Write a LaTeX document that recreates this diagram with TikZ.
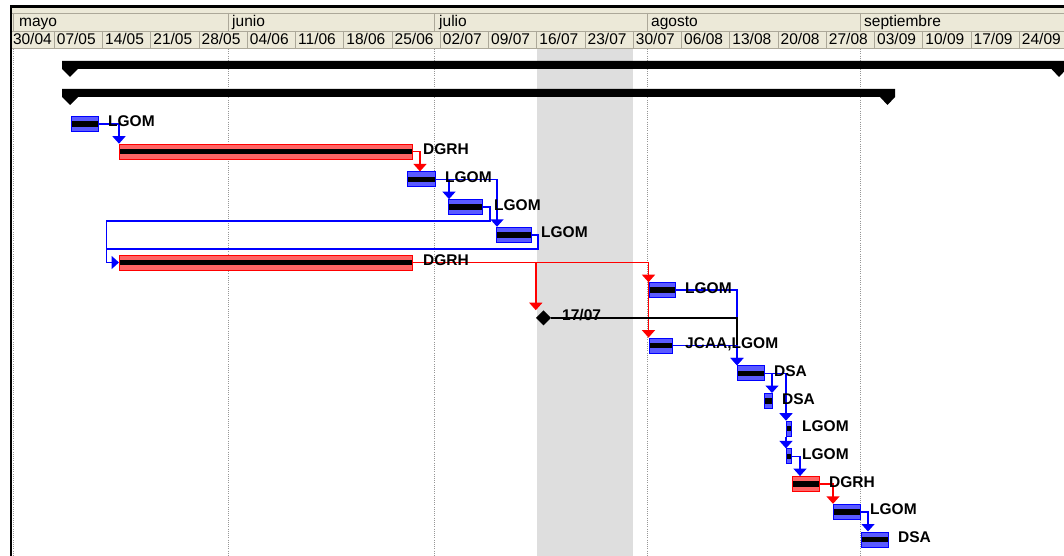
\documentclass[tikz,border=0pt]{standalone}
\usepackage{fontspec}
\setmainfont{Liberation Sans}
\usetikzlibrary{arrows.meta,calc,shapes.geometric}
\definecolor{hdr}{HTML}{ECE9D8}
\definecolor{hline}{HTML}{ACA899}
\definecolor{bfill}{RGB}{90,90,255}
\definecolor{rfill}{RGB}{255,100,100}
\definecolor{band}{RGB}{222,222,222}
\definecolor{gridc}{RGB}{150,150,150}
\begin{document}
\begin{tikzpicture}[x=1pt,y=-1pt,
  bar/.style={rectangle, anchor=west, inner sep=0pt, minimum height=15pt, line width=1pt,
    path picture={\fill[black] ([yshift=2.75pt]path picture bounding box.west) rectangle ([yshift=-2.75pt]path picture bounding box.east);}},
  bbar/.style={bar, draw=blue, fill=bfill},
  rbar/.style={bar, draw=red, fill=rfill},
  lbl/.style={anchor=base west, inner sep=0pt, font=\fontsize{15.5}{16}\selectfont\bfseries},
  hlbl/.style={anchor=base west, inner sep=0pt, font=\fontsize{15.5}{16}\selectfont},
  conn/.style={line width=1.5pt, -{Triangle[width=13pt,length=7.5pt]}},
  bconn/.style={conn, draw=blue},
  rconn/.style={conn, draw=red},
  kconn/.style={line width=1.3pt, draw=black},
  gridl/.style={draw=gridc, line width=0.8pt, dash pattern=on 1pt off 1.2pt},
  hsep/.style={draw=hline, line width=0.9pt},
]
\useasboundingbox (0,0) rectangle (1064,556);
\clip (0,0) rectangle (1064,556);
\fill[white] (0,0) rectangle (1064,556);
% shaded non-working band
\fill[band] (536.75,49) rectangle (633.25,556);
% month grid lines
\foreach \gx in {13.5,228,434,647,860.5}
  \draw[gridl] (\gx,49) -- (\gx,556);
% header
\fill[hdr] (12,7) rectangle (1064,48.5);
\draw[hsep] (12,13) -- (1064,13);
\draw[hsep] (12,31) -- (1064,31);
\draw[hsep] (12,48.5) -- (1064,48.5);
\foreach \mx in {13.5,228,434,647,860.5}
  \draw[hsep] (\mx,13) -- (\mx,31);
\foreach \i in {1,...,21}
  \draw[hsep] ({6+48.25*\i},31) -- ({6+48.25*\i},48.5);
\node[hlbl] (mo1) at (19,27) {mayo};
\node[hlbl] (mo2) at (232,27) {junio};
\node[hlbl] (mo3) at (439,27) {julio};
\node[hlbl] (mo4) at (651,27) {agosto};
\node[hlbl] (mo5) at (864,27) {septiembre};
\foreach \lab [count=\i from 0] in {30/04,07/05,14/05,21/05,28/05,04/06,11/06,18/06,25/06,02/07,09/07,16/07,23/07,30/07,06/08,13/08,20/08,27/08,03/09,10/09,17/09,24/09}{
  \pgfmathsetmacro\xx{max(6+48.25*\i+2.5,12.8)}
  \node[hlbl] (w\i) at (\xx,44.5) {\lab};
}
% frame
\fill[black] (10,5) rectangle (1064,7.7);
\fill[black] (10,5) rectangle (12.3,556);
% summary bars
\fill[black] (62,61) -- (1066.5,61) -- (1066.5,69) -- (1059,77) -- (1051.5,69) -- (78,69) -- (70,77) -- (62,69) -- cycle;
\fill[black] (62,89) -- (895,89) -- (895,97) -- (887.5,105) -- (880,97) -- (78,97) -- (70,105) -- (62,97) -- cycle;
% task bars
\node[bbar, minimum width=27pt] (t1) at (71,124) {};
\node[rbar, minimum width=293pt] (t2) at (119,151.7) {};
\node[bbar, minimum width=28pt] (t3) at (407,179.4) {};
\node[bbar, minimum width=34pt] (t4) at (448,207.1) {};
\node[bbar, minimum width=35pt] (t5) at (496,234.8) {};
\node[rbar, minimum width=293pt] (t6) at (119,262.5) {};
\node[bbar, minimum width=26pt] (t7) at (648.5,290.2) {};
\node[diamond, fill=black, inner sep=0pt, minimum width=15pt, minimum height=15pt] (m) at (543.5,317.9) {};
\node[bbar, minimum width=23pt] (t8) at (648.5,345.6) {};
\node[bbar, minimum width=27pt] (t9) at (737,373.3) {};
\node[bbar, minimum width=8pt] (t10) at (764,401) {};
\node[bbar, minimum width=5pt] (t11) at (786,428.7) {};
\node[bbar, minimum width=5pt] (t12) at (786,456.4) {};
\node[rbar, minimum width=27pt] (t13) at (792,484.1) {};
\node[bbar, minimum width=27pt] (t14) at (833,511.8) {};
\node[bbar, minimum width=27pt] (t15) at (861,539.5) {};
% connectors
\draw[bconn] (t1.east) -| (t2.north west);
\coordinate (k2) at ($(t2.east)+(7,0)$);
\draw[rconn] (t2.east) -- (k2) -- (k2 |- t3.north);
\draw[bconn] (t3.east) -| ([xshift=1pt]t4.north west);
\draw[bconn] (t3.east) -| ([xshift=1pt]t5.north west);
\coordinate (k4) at ($(t4.east)+(7,0)$);
\coordinate (ka) at (106.5,221);
\coordinate (kb) at (106.5,249);
\coordinate (k5) at ($(t5.east)+(6,0)$);
\draw[blue, line width=1.5pt] (t4.east) -- (k4) -- (k4 |- ka) -- (ka) -- (kb);
\draw[bconn] (t5.east) -- (k5) -- (k5 |- kb) -- (kb) -- (kb |- t6.west) -- (t6.west);
\draw[rconn] (t6.east) -| (t8.north west);
\draw[rconn] (t8.north west |- t6.east) -- (t8.north west |- t7.north);
\draw[rconn] (m.west |- t6.east) -- (m.west |- m.north);
\draw[bconn] (t7.east) -| (t9.north west);
\coordinate (j9) at (t9.north west |- t8.east);
\draw[kconn] (m.east) -| (j9);
\draw[bconn] (t8.east) -| (t9.north west);
\coordinate (k9) at ($(t9.east)+(7,0)$);
\draw[bconn] (t9.east) -- (k9) -- (k9 |- t10.north);
\draw[bconn] (t9.east) -| (t11.north west);
\draw[bconn] (t11.south west) -- (t12.north west);
\coordinate (k12) at ($(t12.east)+(8,0)$);
\draw[bconn] (t12.east) -- (k12) -- (k12 |- t13.north);
\draw[rconn] (t13.east) -| (t14.north west);
\coordinate (k14) at ($(t14.east)+(7,0)$);
\draw[bconn] (t14.east) -- (k14) -- (k14 |- t15.north);
% labels
\node[lbl] (l1) at (108,127) {LGOM};
\node[lbl] (l2) at (423,154.7) {DGRH};
\node[lbl] (l3) at (445,182.4) {LGOM};
\node[lbl] (l4) at (494,210.1) {LGOM};
\node[lbl] (l5) at (541,237.8) {LGOM};
\node[lbl] (l6) at (423,265.5) {DGRH};
\node[lbl] (l7) at (685,293.2) {LGOM};
\node[lbl] (lm) at (562,320.9) {17/07};
\node[lbl] (l8) at (685,348.6) {JCAA,LGOM};
\node[lbl] (l9) at (774,376.3) {DSA};
\node[lbl] (l10) at (782,404) {DSA};
\node[lbl] (l11) at (802,431.7) {LGOM};
\node[lbl] (l12) at (802,459.4) {LGOM};
\node[lbl] (l13) at (829,487.1) {DGRH};
\node[lbl] (l14) at (870,514.8) {LGOM};
\node[lbl] (l15) at (898,542.5) {DSA};
\end{tikzpicture}
\end{document}
